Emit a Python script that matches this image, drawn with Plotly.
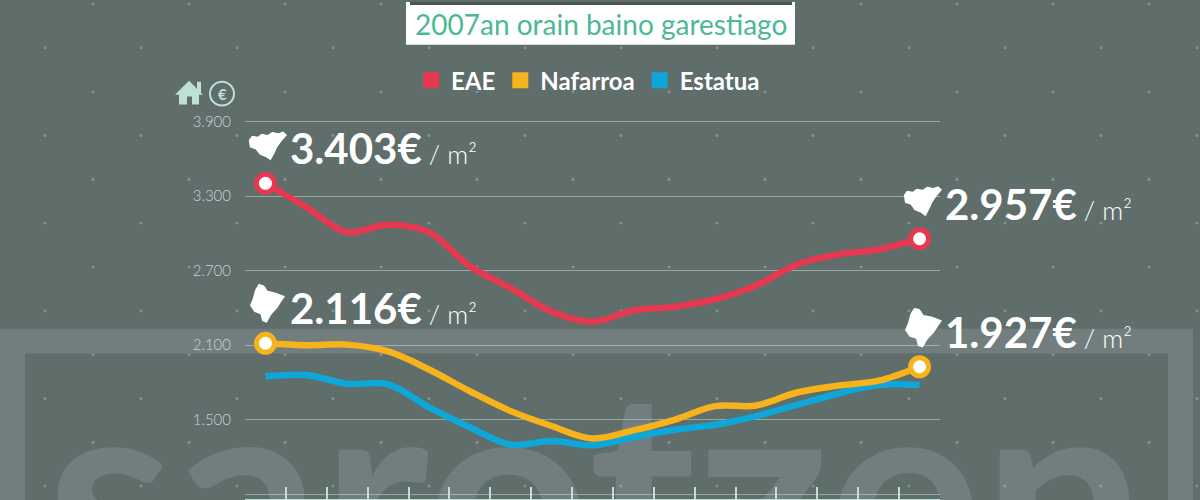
import numpy as np
import plotly.graph_objects as go

# housing price per m2, 2007-2023
years = [str(y) for y in range(2007, 2024)]
eae = [3403, 3210, 3010, 3070, 3010, 2735, 2560, 2370, 2290, 2380, 2410, 2470, 2580, 2750, 2830, 2870, 2957]
nafarroa = [2116, 2100, 2105, 2050, 1905, 1730, 1570, 1450, 1350, 1415, 1500, 1610, 1615, 1720, 1775, 1815, 1927]
estatua = [1850, 1860, 1790, 1785, 1600, 1440, 1300, 1330, 1295, 1360, 1420, 1460, 1530, 1620, 1710, 1780, 1780]
y_ticks = [900, 1500, 2100, 2700, 3300, 3900]

RED = '#e5394f'
YELLOW = '#f6b31b'
BLUE = '#0fa6d8'
BG = '#5f6d6b'
MINT = '#bfe0d7'

fig = go.Figure()

# ---- background canvas (pixel axes x/y) ----
dot_x, dot_y = [], []
for k, yy in enumerate(np.arange(2, 520, 44)):
    start = 93 if k % 2 == 0 else 45
    for xx in np.arange(start, 1200, 96):
        dot_x.append(xx)
        dot_y.append(yy)
fig.add_trace(go.Scatter(x=dot_x, y=dot_y, mode='markers', xaxis='x', yaxis='y',
                         marker=dict(size=3, color='#86928f'), hoverinfo='skip', showlegend=False))
fig.add_trace(go.Scatter(x=[596], y=[526], mode='text', text=['sarotzen'], xaxis='x', yaxis='y',
                         textfont=dict(family='Lato', size=290, color='rgba(255,255,255,0.12)',
                                       weight='bold'),
                         hoverinfo='skip', showlegend=False))

# ---- chart (x2/y2) ----
series = [('Estatua', estatua, BLUE), ('Nafarroa', nafarroa, YELLOW), ('EAE', eae, RED)]
for name, vals, col in series:
    fig.add_trace(go.Scatter(x=years, y=vals, mode='lines', xaxis='x2', yaxis='y2',
                             line=dict(color=col, width=6.5, shape='spline', smoothing=1),
                             hoverinfo='skip', showlegend=False))
for name, vals, col in [('Nafarroa', nafarroa, YELLOW), ('EAE', eae, RED)]:
    fig.add_trace(go.Scatter(x=[years[0], years[-1]], y=[vals[0], vals[-1]], mode='markers',
                             xaxis='x2', yaxis='y2',
                             marker=dict(size=18, color='white', line=dict(color=col, width=5)),
                             hoverinfo='skip', showlegend=False))

# legend entries as squares
for name, col in [('EAE', RED), ('Nafarroa', YELLOW), ('Estatua', BLUE)]:
    fig.add_trace(go.Scatter(x=[None], y=[None], mode='markers', name=name, xaxis='x2', yaxis='y2',
                             marker=dict(symbol='square', size=17, color=col)))


def fmt(v):
    return f'{v:,}'.replace(',', '.')


annotations = []
for vals in (eae, nafarroa):
    for i in (0, len(years) - 1):
        annotations.append(dict(
            x=i, y=vals[i], xref='x2', yref='y2', xanchor='left', yanchor='middle',
            xshift=23, yshift=35, showarrow=False,
            text=f'<b>{fmt(vals[i])}€</b><span style="font-size:26px;font-weight:300"> / m²</span>',
            font=dict(family='Lato', size=42, color='white')))

annotations.append(dict(x=601, y=22, xref='x', yref='y', showarrow=False,
                        text='2007an orain baino garestiago',
                        font=dict(family='Lato', size=28, color='#4db894')))
annotations.append(dict(x=222, y=92, xref='x', yref='y', showarrow=False, text='<b>€</b>',
                        font=dict(family='Lato', size=15, color=MINT)))


def blob(pts, x0, y0, w, h):
    p = ' L '.join(f'{x0 + a * w:.1f},{y0 + b * h:.1f}' for a, b in pts)
    return f'M {p} Z'


basque = [(0.02, 0.3), (0.1, 0.15), (0.25, 0.18), (0.35, 0.08), (0.5, 0.12), (0.62, 0.02),
          (0.78, 0.06), (0.9, 0.0), (1.0, 0.12), (0.85, 0.35), (0.75, 0.55), (0.68, 0.75),
          (0.58, 1.0), (0.45, 0.88), (0.3, 0.8), (0.2, 0.62), (0.05, 0.55)]
navarre = [(0.25, 0.0), (0.4, 0.04), (0.5, 0.18), (0.72, 0.22), (1.0, 0.32), (0.88, 0.48),
           (0.78, 0.62), (0.6, 0.8), (0.48, 1.0), (0.35, 0.96), (0.3, 0.78), (0.12, 0.72),
           (0.0, 0.56), (0.08, 0.38), (0.15, 0.15)]

shapes = [
    # watermark frame
    dict(type='path', xref='x', yref='y', layer='below', line=dict(width=0),
         fillcolor='rgba(255,255,255,0.12)',
         path='M -5,328 L 1193,328 L 1193,520 L 1168,520 L 1168,353 L 25,353 L 25,520 L -5,520 Z'),
    # title box
    dict(type='rect', xref='x', yref='y', x0=406, x1=795, y0=-2, y1=43, fillcolor='white',
         line=dict(width=0), layer='above'),
    dict(type='rect', xref='x', yref='y', x0=410, x1=792, y0=-2, y1=3, fillcolor='#4b5654',
         line=dict(width=0), layer='above'),
    # house icon
    dict(type='path', xref='x', yref='y', fillcolor=MINT, line=dict(width=0),
         path='M 175,93 L 189,79 L 197,87 L 197,80 L 201,80 L 201,91 L 203,93 L 199,93 L 199,103 '
              'L 192,103 L 192,95 L 187,95 L 187,103 L 179,103 L 179,93 Z'),
    dict(type='circle', xref='x', yref='y', x0=210, x1=234, y0=80, y1=104,
         line=dict(color=MINT, width=2)),
    # region silhouettes
    dict(type='path', xref='x', yref='y', fillcolor='white', line=dict(width=0),
         path=blob(basque, 248, 130, 39, 29)),
    dict(type='path', xref='x', yref='y', fillcolor='white', line=dict(width=0),
         path=blob(navarre, 250, 283, 35, 39)),
    dict(type='path', xref='x', yref='y', fillcolor='white', line=dict(width=0),
         path=blob(basque, 903, 185, 39, 30)),
    dict(type='path', xref='x', yref='y', fillcolor='white', line=dict(width=0),
         path=blob(navarre, 905, 307, 37, 40)),
]

fig.update_layout(
    width=1200, height=500,
    margin=dict(l=0, r=0, t=0, b=0),
    paper_bgcolor=BG, plot_bgcolor='rgba(0,0,0,0)',
    separators=',.',
    font=dict(family='Lato', color='white'),
    xaxis=dict(range=[0, 1200], domain=[0, 1], visible=False, fixedrange=True),
    yaxis=dict(range=[500, 0], domain=[0, 1], visible=False, fixedrange=True),
    xaxis2=dict(anchor='y2', domain=[245 / 1200, 940 / 1200], type='category',
                range=[-0.5, len(years) - 0.5],
                tickson='boundaries', ticks='inside', ticklen=12, tickwidth=2, tickcolor=MINT,
                showline=True, linewidth=6, linecolor=MINT, showgrid=False,
                showticklabels=False, fixedrange=True),
    yaxis2=dict(anchor='x2', domain=[0.002, 0.776], range=[863, 3964],
                tickvals=y_ticks, tickformat=',d', showgrid=True,
                gridcolor='rgba(200,215,212,0.55)', gridwidth=1, zeroline=False,
                ticklabelstandoff=13, tickfont=dict(family='Lato', size=15, color='#cbd4d2', weight=300),
                fixedrange=True),
    legend=dict(orientation='h', x=0.49, y=0.842, xanchor='center', yanchor='middle',
                font=dict(family='Lato', size=24, color='white', weight='bold'),
                itemwidth=30, bgcolor='rgba(0,0,0,0)', traceorder='normal'),
    shapes=shapes,
    annotations=annotations,
)

fig.write_html('out.html', config={'displayModeBar': False},
               post_script="document.body.style.margin='0';")
